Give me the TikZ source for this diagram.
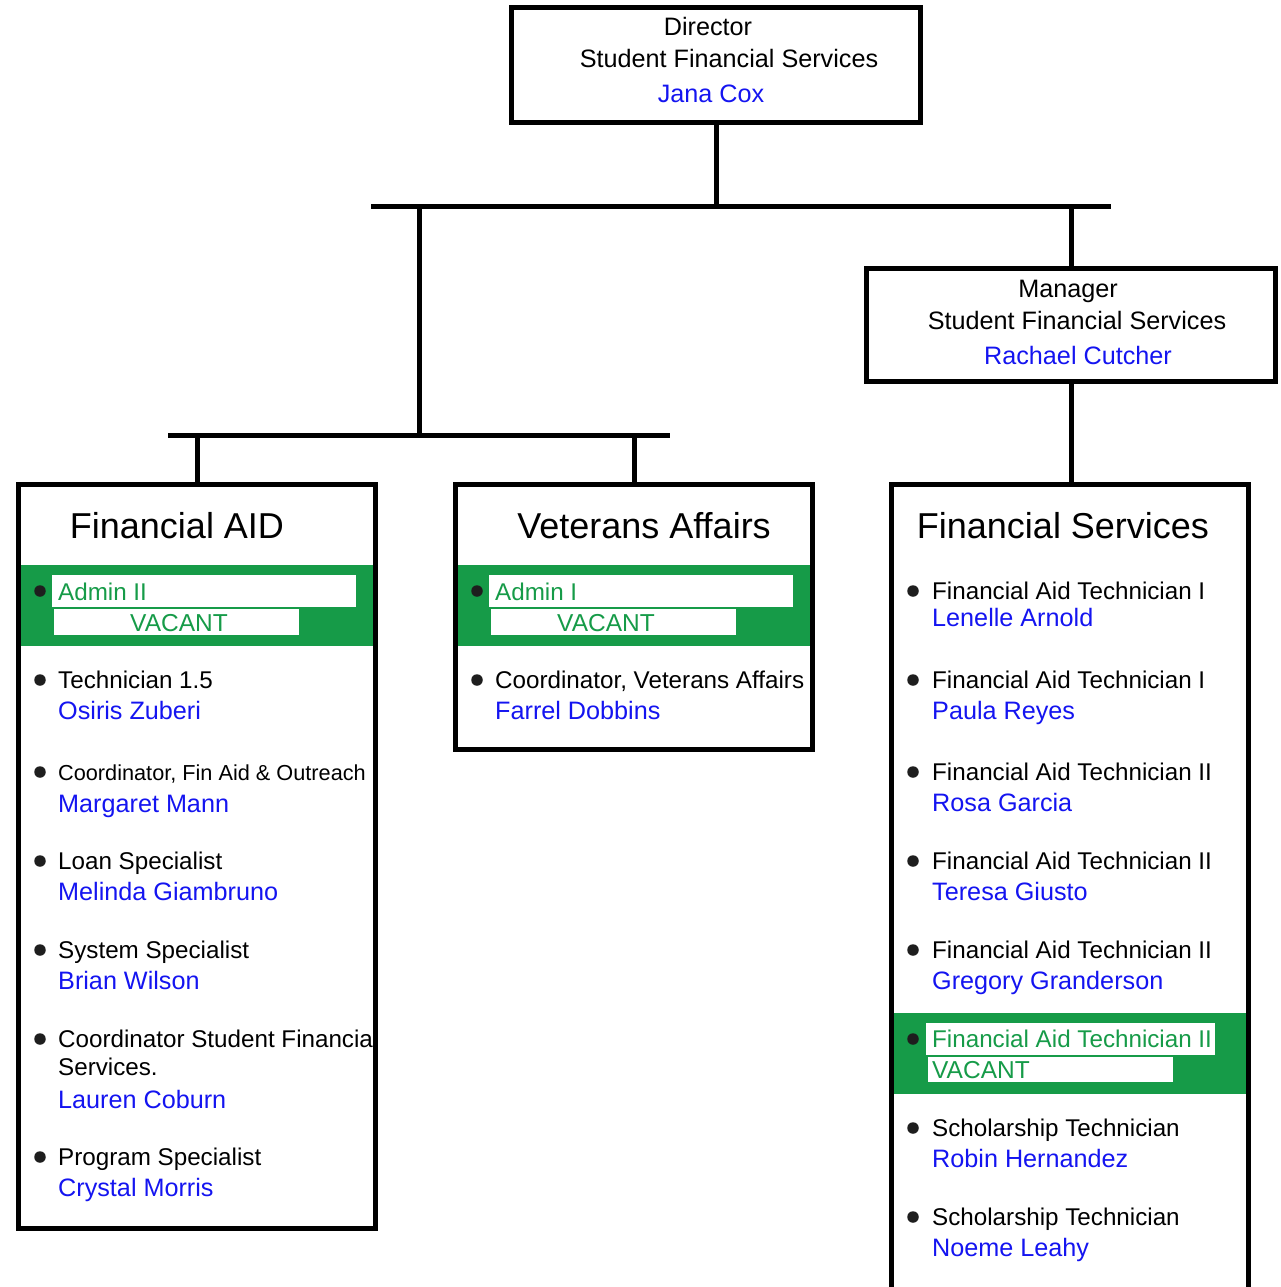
\documentclass[tikz,border=0pt]{standalone}
\usepackage{fontspec}
\setmainfont{Liberation Sans}
\definecolor{sgreen}{RGB}{22,155,72}
\definecolor{sblue}{RGB}{20,20,240}
\definecolor{bulletc}{RGB}{30,30,30}
\begin{document}
\begin{tikzpicture}[x=1pt,y=-1pt,
  box/.style={draw=black,line width=5pt,inner sep=0pt,outer sep=0pt,anchor=north west},
  wire/.style={line width=5pt},
  band/.style={fill=sgreen},
  whitebar/.style={fill=white},
  head/.style={font=\fontsize{25.2}{30}\selectfont,inner sep=0pt,anchor=base},
  headname/.style={head,text=sblue},
  title/.style={font=\fontsize{36}{42}\selectfont,inner sep=0pt,anchor=base},
  role/.style={font=\fontsize{24.2}{28}\selectfont,inner sep=0pt,anchor=base west},
  smallrole/.style={font=\fontsize{21.7}{26}\selectfont,inner sep=0pt,anchor=base west},
  pname/.style={font=\fontsize{25.2}{30}\selectfont,inner sep=0pt,anchor=base west,text=sblue},
  vac/.style={font=\fontsize{24.5}{28}\selectfont,inner sep=0pt,text=sgreen},
  dot/.style={circle,fill=bulletc,inner sep=0pt,minimum size=11.5pt}
]
\useasboundingbox (0,0) rectangle (1281,1287);
\clip (0,0) rectangle (1281,1287);

% green bands and white label bars
\fill[band] (18.5,565) rectangle (375.5,646);
\fill[whitebar] (52,575) rectangle (356,607);
\fill[whitebar] (54,609) rectangle (299,635);
\fill[band] (455.5,565) rectangle (812.5,646);
\fill[whitebar] (489,575) rectangle (793,607);
\fill[whitebar] (491,609) rectangle (736,635);
\fill[band] (891.5,1013) rectangle (1248.5,1094);
\fill[whitebar] (926,1023) rectangle (1215,1055);
\fill[whitebar] (928,1057) rectangle (1173,1082);

% boxes
\node[box,minimum width=409pt,minimum height=115pt] (dir) at (511.5,7.5) {};
\node[box,minimum width=409pt,minimum height=113pt] (mgr) at (866.5,268.5) {};
\node[box,minimum width=357pt,minimum height=744pt] (fa) at (18.5,484.5) {};
\node[box,minimum width=357pt,minimum height=265pt] (va) at (455.5,484.5) {};
\node[box,minimum width=357pt,minimum height=860pt] (fs) at (891.5,484.5) {};

% director text
\node[head] (dirA) at (708,36) {Director};
\node[head] (dirB) at (729,68) {Student Financial Services};
\node[headname] (dirC) at (711,103) {Jana Cox};
% manager text
\node[head] (mgrA) at (1068,297) {Manager};
\node[head] (mgrB) at (1077,329) {Student Financial Services};
\node[headname] (mgrC) at (1078,364) {Rachael Cutcher};

% titles
\node[title] (faT) at (177,538) {Financial AID};
\node[title] (vaT) at (644,538) {Veterans Affairs};
\node[title] (fsT) at (1063,538) {Financial Services};

% Financial AID items
\node[dot] (fab0) at (40,591) {};
\node[role,text=sgreen] (fa0a) at (58,600) {Admin II};
\node[vac,anchor=base] (fa0b) at (179,631) {VACANT};
\node[dot] (fab1) at (40,680) {};
\node[role] (fa1a) at (58,688) {Technician 1.5};
\node[pname] (fa1b) at (58,719) {Osiris Zuberi};
\node[dot] (fab2) at (40,772) {};
\node[smallrole] (fa2a) at (58,780) {Coordinator, Fin Aid \& Outreach};
\node[pname] (fa2b) at (58,812) {Margaret Mann};
\node[dot] (fab3) at (40,861) {};
\node[role] (fa3a) at (58,869) {Loan Specialist};
\node[pname] (fa3b) at (58,900) {Melinda Giambruno};
\node[dot] (fab4) at (40,950) {};
\node[role] (fa4a) at (58,958) {System Specialist};
\node[pname] (fa4b) at (58,989) {Brian Wilson};
\node[dot] (fab5) at (40,1039) {};
\node[role] (fa5a) at (58,1047) {Coordinator Student Financial};
\node[role] (fa5c) at (58,1075) {Services.};
\node[pname] (fa5b) at (58,1108) {Lauren Coburn};
\node[dot] (fab6) at (40,1157) {};
\node[role] (fa6a) at (58,1165) {Program Specialist};
\node[pname] (fa6b) at (58,1196) {Crystal Morris};

% Veterans Affairs items
\node[dot] (vab0) at (477,591) {};
\node[role,text=sgreen] (va0a) at (495,600) {Admin I};
\node[vac,anchor=base] (va0b) at (606,631) {VACANT};
\node[dot] (vab1) at (477,680) {};
\node[role] (va1a) at (495,688) {Coordinator, Veterans Affairs};
\node[pname] (va1b) at (495,719) {Farrel Dobbins};

% Financial Services items
\node[dot] (fsb1) at (913,591) {};
\node[role] (fs1a) at (932,599) {Financial Aid Technician I};
\node[pname] (fs1b) at (932,626) {Lenelle Arnold};
\node[dot] (fsb2) at (913,680) {};
\node[role] (fs2a) at (932,688) {Financial Aid Technician I};
\node[pname] (fs2b) at (932,719) {Paula Reyes};
\node[dot] (fsb3) at (913,772) {};
\node[role] (fs3a) at (932,780) {Financial Aid Technician II};
\node[pname] (fs3b) at (932,811) {Rosa Garcia};
\node[dot] (fsb4) at (913,861) {};
\node[role] (fs4a) at (932,869) {Financial Aid Technician II};
\node[pname] (fs4b) at (932,900) {Teresa Giusto};
\node[dot] (fsb5) at (913,950) {};
\node[role] (fs5a) at (932,958) {Financial Aid Technician II};
\node[pname] (fs5b) at (932,989) {Gregory Granderson};
\node[dot] (fsb6) at (913,1039) {};
\node[role,text=sgreen] (fs6a) at (932,1047) {Financial Aid Technician II};
\node[vac,anchor=base west] (fs6b) at (932,1078) {VACANT};
\node[dot] (fsb7) at (913,1128) {};
\node[role] (fs7a) at (932,1136) {Scholarship Technician};
\node[pname] (fs7b) at (932,1167) {Robin Hernandez};
\node[dot] (fsb8) at (913,1217) {};
\node[role] (fs8a) at (932,1225) {Scholarship Technician};
\node[pname] (fs8b) at (932,1256) {Noeme Leahy};

% redraw borders over overflowing text
\draw[line width=5pt] (fa.north west) rectangle (fa.south east);
\draw[line width=5pt] (fs.north west) rectangle (fs.south east);

% connectors
\coordinate (b1L) at (371,206);
\coordinate (b1R) at (1111,206);
\coordinate (j1) at (419,206);
\coordinate (j2) at (419,435);
\coordinate (b2L) at (168,435);
\coordinate (b2R) at (670,435);
\draw[wire] (b1L) -- (b1R);
\draw[wire] (b2L) -- (b2R);
\draw[wire] (dir.south) -- (dir.south |- b1L);
\draw[wire] (j1) -- (j2);
\draw[wire] (mgr.north |- b1L) -- (mgr.north);
\draw[wire] (mgr.south) -- (mgr.south |- fs.north);
\draw[wire] (fa.north |- b2L) -- (fa.north);
\draw[wire] (va.north |- b2L) -- (va.north);
\end{tikzpicture}
\end{document}
